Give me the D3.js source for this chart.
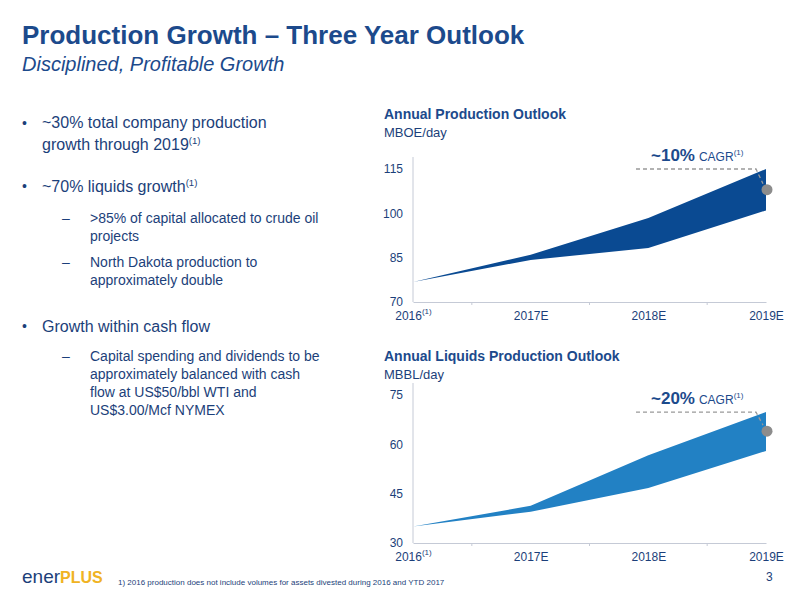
<!DOCTYPE html>
<html><head><meta charset="utf-8">
<script src="https://cdn.jsdelivr.net/npm/d3@7"></script>
<style>body{margin:0;background:#fff;font-family:"Liberation Sans",Arial,sans-serif}</style>
</head><body><svg id="c" width="800" height="600"></svg>
<script>
const years = ["2016", "2017E", "2018E", "2019E"];
const totalHigh = [76.8, 86, 98.4, 115];
const totalLow = [76.8, 84.2, 88.3, 101];
const totalMid = 108;
const liqHigh = [35, 41.3, 56.7, 69.8];
const liqLow = [35, 39.5, 46.7, 58];
const liqMid = 64;
const totalTicks = [70, 85, 100, 115];
const liqTicks = [30, 45, 60, 75];

const svg = d3.select("#c");
const navy = "#1c4a8c";
svg.append("text").attr("x",22).attr("y",44).attr("fill",navy).attr("font-size",26).attr("font-weight","bold").text("Production Growth – Three Year Outlook");
svg.append("text").attr("x",22).attr("y",71).attr("fill",navy).attr("font-size",20).attr("font-style","italic").text("Disciplined, Profitable Growth");

function t(x,y,size,parts,col){
  const e=svg.append("text").attr("x",x).attr("y",y).attr("font-size",size).attr("fill",col||"#1c3f7a");
  parts.forEach(p=>{const s=e.append("tspan").text(p[0]); if(p[1]) s.attr("font-size",size*0.6).attr("dy",-6);});
  return e;
}
const bc="#1c3f7a";
svg.append("text").attr("x",22).attr("y",128).attr("font-size",14).attr("fill",bc).text("•");
t(42,128,16,[["~30% total company production"]]);
t(42,150,16,[["growth through 2019"],["(1)",true]]);
svg.append("text").attr("x",22).attr("y",191).attr("font-size",14).attr("fill",bc).text("•");
t(42,192,16,[["~70% liquids growth"],["(1)",true]]);
t(62,223,14,[["–"]]); t(90,223,14,[[">85% of capital allocated to crude oil"]]);
t(90,241,14,[["projects"]]);
t(62,267,14,[["–"]]); t(90,267,14,[["North Dakota production to"]]);
t(90,285,14,[["approximately double"]]);
svg.append("text").attr("x",22).attr("y",331).attr("font-size",14).attr("fill",bc).text("•");
t(42,332,16,[["Growth within cash flow"]]);
t(62,361,14,[["–"]]); t(90,361,14,[["Capital spending and dividends to be"]]);
t(90,379,14,[["approximately balanced with cash"]]);
t(90,397,14,[["flow at US$50/bbl WTI and"]]);
t(90,415,14,[["US$3.00/Mcf NYMEX"]]);

const x = d3.scalePoint().domain(years).range([413,766]);

function chart(ty, top, bottom, ticks, hi, lo, mid, col, title, unit, pct){
  svg.append("text").attr("x",384).attr("y",ty).attr("font-size",14).attr("font-weight","bold").attr("fill",navy).text(title);
  svg.append("text").attr("x",384).attr("y",ty+18).attr("font-size",13).attr("fill","#1c3f7a").text(unit);
  const y = d3.scaleLinear().domain([ticks[0],ticks[3]]).range([bottom, top]);
  const ay = svg.append("g").attr("transform","translate(413,0)").call(d3.axisLeft(y).tickValues(ticks).tickSize(0).tickPadding(10));
  ay.select(".domain").attr("stroke","#c5cad6").attr("d",`M0,${y(ticks[3])-12}V${bottom}`);
  ay.selectAll("text").attr("font-size",12).attr("fill","#1c3f7a").attr("font-family","Liberation Sans, Arial");
  const ax = svg.append("g").attr("transform",`translate(0,${bottom})`).call(d3.axisBottom(x).tickSize(0).tickPadding(9));
  ax.select(".domain").attr("stroke","#c5cad6");
  ax.selectAll("text").attr("font-size",12).attr("fill","#1c3f7a").attr("font-family","Liberation Sans, Arial");
  ax.selectAll(".tick").filter(d=>d==="2016").select("text").append("tspan").attr("dy",-6).attr("font-size",8).text("(1)");
  for(let i=0;i<3;i++){const m=(x(years[i])+x(years[i+1]))/2; svg.append("line").attr("x1",m).attr("x2",m).attr("y1",bottom).attr("y2",bottom+3).attr("stroke","#c5cad6");}
  const area = d3.area().x((d,i)=>x(years[i])).y0((d,i)=>y(lo[i])).y1(d=>y(d));
  svg.append("path").attr("d",area(hi)).attr("fill",col);
  const xe=x(years[3]), yh=y(hi[3]), ym=y(mid);
  svg.append("path").attr("d",`M${xe-130},${yh}H${xe-10}L${xe-3},${ym-6}`).attr("fill","none").attr("stroke","#999").attr("stroke-width",1.3).attr("stroke-dasharray","4,3");
  svg.append("circle").attr("cx",xe+1).attr("cy",ym).attr("r",5.5).attr("fill","#8c8c8c");
  const lt = svg.append("text").attr("x",xe-115).attr("y",yh-8).attr("fill",navy).attr("font-size",17).attr("font-weight","bold").text("~"+pct+"%");
  lt.append("tspan").attr("font-size",12).attr("font-weight","normal").attr("dx",4).text("CAGR");
  lt.append("tspan").attr("font-size",8).attr("font-weight","normal").attr("dy",-6).text("(1)");
}
chart(119,169,302,totalTicks,totalHigh,totalLow,totalMid,"#0a4a92","Annual Production Outlook","MBOE/day",10);
chart(361,395,543,liqTicks,liqHigh,liqLow,liqMid,"#2281c4","Annual Liquids Production Outlook","MBBL/day",20);

const lg = svg.append("text").attr("x",22).attr("y",583).attr("font-size",19);
lg.append("tspan").attr("fill","#1c3f7a").text("ener");
lg.append("tspan").attr("fill","#f0b323").attr("font-weight","bold").attr("font-size",16).text("PLUS");
svg.append("text").attr("x",118).attr("y",585).attr("font-size",8).attr("fill","#1c3f7a").text("1)     2016 production does not include volumes for assets divested during 2016 and YTD 2017");
svg.append("text").attr("x",766).attr("y",581).attr("font-size",12).attr("fill","#1c3f7a").text("3");
</script></body></html>
